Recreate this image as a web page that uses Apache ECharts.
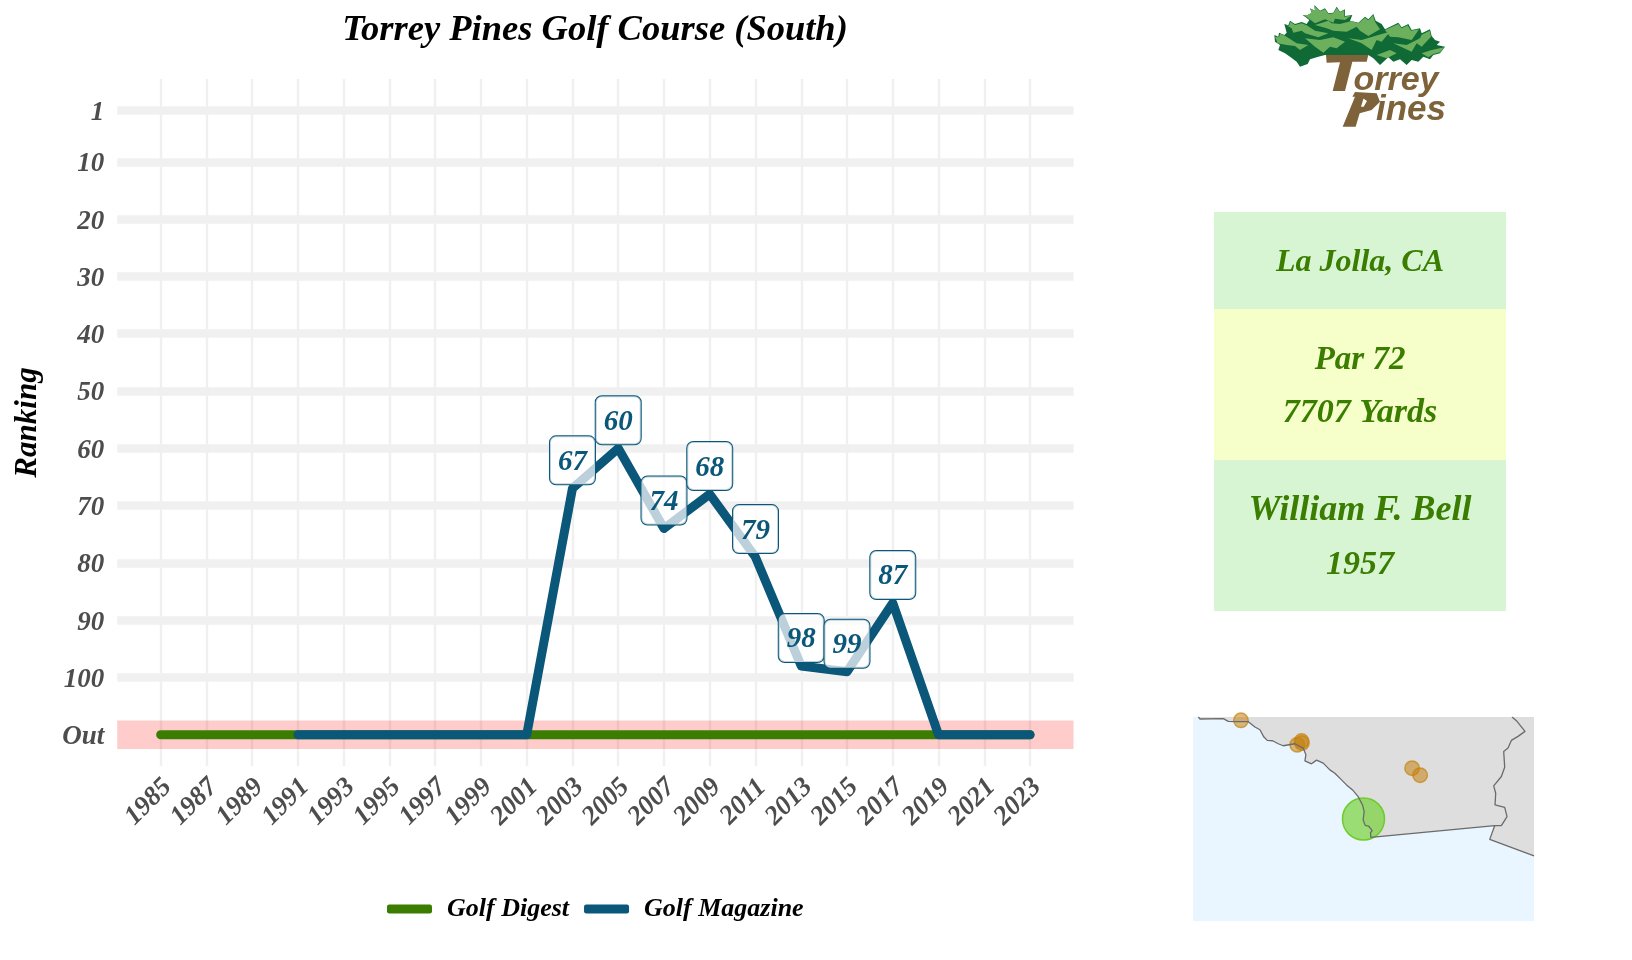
<!DOCTYPE html>
<html><head><meta charset="utf-8">
<style>html,body{margin:0;padding:0;background:#fff}#c{width:1632px;height:960px}</style>
<script src="https://cdn.jsdelivr.net/npm/echarts@6/dist/echarts.min.js"></script>
</head><body><div id="c"></div>
<script>
// ---- chart data ----
const titleText = 'Torrey Pines Golf Course (South)';
const yearTicks = [1985,1987,1989,1991,1993,1995,1997,1999,2001,2003,2005,2007,2009,2011,2013,2015,2017,2019,2021,2023];
const rankGrid = [1,10,20,30,40,50,60,70,80,90,100];
const rankTicks = [1,10,20,30,40,50,60,70,80,90,100,110];
const OUT = 110;
const digestYears = yearTicks;
const digestRanks = [110,110,110,110,110,110,110,110,110,110,110,110,110,110,110,110,110,110,110,110];
const magazineYears = [1991,1993,1995,1997,1999,2001,2003,2005,2007,2009,2011,2013,2015,2017,2019,2021,2023];
const magazineRanks = [110,110,110,110,110,110,67,60,74,68,79,98,99,87,110,110,110];
const outBand = [107.5,112.5];
// ---- info panel ----
const infoLines = [['La Jolla, CA'],['Par 72','7707 Yards'],['William F. Bell','1957']];
// ---- inset map (map units) ----
const mapCoast = [[55,112],[60,118],[130,117],[145,125],[170,126],[205,126],[225,142],[240,150],[252,172],[262,182],[278,183],[295,192],[310,198],[345,192],[370,205],[378,225],[375,243],[395,252],[410,241],[430,250],[450,270],[465,280],[485,300],[500,315],[520,332],[535,350],[548,375],[553,395],[550,420],[556,436],[566,438],[577,452],[572,458],[573,472],[945,437],[930,478],[1063,527]];
const mapLandExtra = [[1063,112]];
const mapCounty = [[997,112],[1012,125],[1036,155],[1015,170],[995,182],[985,205],[972,215],[975,262],[965,290],[942,318],[948,340],[946,375],[975,382],[982,410],[965,437],[945,437]];
const mapOtherCourses = [[183,122],[352,195],[365,184],[366,190],[697,265],[721,286]];
const mapThisCourse = [[551,417]];
const mapLand = mapCoast.concat(mapLandExtra);

const FONT = 'Liberation Serif';
const GREEN = '#3a7d00', BLUE = '#0b5779', GRID = '#f0f0f0', TICK = '#4d4d4d';
const zip = (a,b)=>a.map((v,i)=>[v,b[i]]);

// ---- logo shapes ----
const Z = p => p.map(q=>[1265+q[0]/3,q[1]/3]);
const treeDark = [[28,105],[40,110],[42,98],[58,105],[65,98],[58,72],[70,76],[75,62],[90,72],[110,66],[125,72],[133,60],[113,45],[128,45],[140,38],[135,25],[150,32],[148,15],[165,32],[180,25],[190,40],[205,38],[215,20],[225,35],[240,28],[240,48],[262,45],[255,62],[280,68],[300,50],[310,58],[325,42],[332,62],[350,72],[360,88],[380,78],[400,68],[410,82],[430,72],[440,90],[465,85],[470,100],[495,88],[500,108],[510,120],[525,125],[515,135],[540,140],[525,160],[505,165],[495,178],[475,170],[460,185],[440,180],[425,195],[405,178],[385,185],[370,172],[345,195],[325,175],[310,165],[180,165],[160,170],[135,178],[128,192],[105,200],[95,185],[75,170],[60,160],[40,150],[45,135],[30,125]];
const treeLight = [
 [[115,45],[128,45],[140,38],[136,26],[150,33],[148,18],[165,34],[180,28],[190,42],[205,40],[215,24],[225,37],[238,31],[238,50],[258,47],[240,60],[210,56],[205,68],[180,58],[150,70],[130,55]],
 [[62,75],[72,78],[76,65],[90,75],[110,70],[125,76],[150,92],[190,100],[160,112],[120,100],[110,92],[85,98],[80,85]],
 [[150,75],[190,62],[200,70],[225,72],[262,62],[280,72],[275,80],[245,95],[205,92],[185,85]],
 [[30,110],[42,112],[45,101],[60,107],[95,130],[130,135],[105,150],[90,138],[65,135],[38,130]],
 [[120,115],[165,120],[205,112],[240,125],[215,145],[195,140],[175,158],[150,140]],
 [[265,68],[280,70],[300,53],[310,61],[324,46],[330,65],[345,88],[310,108],[285,92]],
 [[250,115],[290,120],[340,105],[375,95],[350,125],[335,120],[320,150],[290,130]],
 [[360,90],[380,81],[400,72],[410,85],[428,76],[438,92],[462,88],[440,120],[400,112],[375,110]],
 [[385,130],[425,135],[465,115],[470,104],[494,92],[498,110],[470,140],[455,130],[440,155]],
 [[470,160],[500,150],[538,142],[525,157],[505,162],[490,172]],
 [[335,165],[375,150],[395,160],[365,175]]
];
const logoT = [[183,165],[310,165],[305,185],[262,185],[240,273],[203,273],[225,187],[185,188]];
const logoP = [[233,380],[272,380],[284,340],[320,330],[345,305],[335,280],[270,276],[262,290],[270,290],[294,295],[306,303],[296,320],[288,320],[297,290],[270,290]];

const poly = (pts,fill)=>({type:'polygon',shape:{points:pts},style:{fill}});
const txt = (x,y,text,size,fill,extra)=>({type:'text',x,y,style:Object.assign({text,fill,font:`italic bold ${size}px "${FONT}"`,textAlign:'center',textVerticalAlign:'middle'},extra||{})});

const panelBands = [[212,309,'#d8f5d3'],[309,460,'#f6ffc9'],[460,611,'#d8f5d3']];
const panelLineY = [[263],[360,413],[511,565]];
const panelSize = [[32],[33,34],[36,34]];

const graphics = [
  poly(Z(treeDark),'#0f6a36'),
  ...treeLight.map(p=>poly(Z(p),'#6cb05e')),
  poly(Z(logoT),'#7e6239'),
  poly(Z(logoP),'#7e6239'),
  txt(1396,81,'orrey',34,'#7e6239',{font:'italic bold 34px "Liberation Sans"'}),
  txt(1411,110,'ines',35,'#7e6239',{font:'italic bold 35px "Liberation Sans"'}),
  ...panelBands.map(b=>({type:'rect',shape:{x:1214,y:b[0],width:292,height:b[1]-b[0]},style:{fill:b[2]}})),
  ...infoLines.flatMap((ls,i)=>ls.map((t,j)=>txt(1360,panelLineY[i][j],t,panelSize[i][j],GREEN)))
];

const tickStyle = {color:TICK,fontFamily:FONT,fontStyle:'italic',fontWeight:'bold',fontSize:27};

const option = {
  animation:false,
  backgroundColor:'#fff',
  title:{text:titleText,left:590,top:7,textAlign:'center',textStyle:{fontFamily:FONT,fontStyle:'italic',fontWeight:'bold',fontSize:36.5,color:'#000'}},
  legend:{data:['Golf Digest','Golf Magazine'],left:382,top:891,itemWidth:45,itemHeight:9,itemGap:15,icon:'roundRect',
    textStyle:{fontFamily:FONT,fontStyle:'italic',fontWeight:'bold',fontSize:26,color:'#000',padding:[0,0,0,10]}},
  grid:[
    {left:117.2,top:79,width:956.3,height:687,outerBoundsMode:'none',containLabel:false},
    {left:1193,top:717,width:341,height:204,show:true,backgroundColor:'#e9f5ff',borderWidth:0,outerBoundsMode:'none'}
  ],
  xAxis:[
    {type:'value',min:1983.1,max:2024.9,
     axisLine:{show:false},axisTick:{show:false,customValues:yearTicks},
     splitLine:{show:true,lineStyle:{color:GRID,width:2.4}},
     axisLabel:Object.assign({customValues:yearTicks,rotate:45,margin:24,align:'center',padding:[0,34,0,0],formatter:v=>String(v)},tickStyle)},
    {gridIndex:1,type:'value',min:39,max:1063,show:false}
  ],
  yAxis:[
    {type:'value',inverse:true,min:-4.45,max:115.45,name:'Ranking',nameLocation:'middle',nameGap:74,
     nameTextStyle:{fontFamily:FONT,fontStyle:'italic',fontWeight:'bold',fontSize:31,color:'#000'},
     axisLine:{show:false},axisTick:{show:false,customValues:rankGrid},
     splitLine:{show:true,lineStyle:{color:GRID,width:8.6}},
     axisLabel:Object.assign({customValues:rankTicks,margin:13,
       formatter:v=>'{t|'+(v===OUT?'Out':String(v))+'}',
       rich:{t:Object.assign({padding:[5,0,0,0]},tickStyle)}},tickStyle)},
    {gridIndex:1,type:'value',inverse:true,min:112,max:722,show:false}
  ],
  graphic:graphics,
  series:[
    {name:'Golf Digest',type:'line',data:zip(digestYears,digestRanks),symbol:'none',color:GREEN,
     lineStyle:{width:9,cap:'round',join:'round',color:GREEN},z:3,
     markArea:{silent:true,itemStyle:{color:'rgba(255,0,0,0.2)'},label:{show:false},
       data:[[{yAxis:outBand[0]},{yAxis:outBand[1]}]]}},
    {name:'Golf Magazine',type:'line',
     data:zip(magazineYears,magazineRanks).map(d=>({value:d,label:{show:d[1]<OUT}})),
     symbol:'circle',symbolSize:0.1,showSymbol:true,showAllSymbol:true,color:BLUE,
     lineStyle:{width:9,cap:'round',join:'round',color:BLUE},z:4,
     label:{show:true,position:'top',distance:4,formatter:p=>String(p.value[1]),color:BLUE,
       fontFamily:FONT,fontStyle:'italic',fontWeight:'bold',fontSize:29,
       backgroundColor:'rgba(255,255,255,0.72)',borderColor:BLUE,borderWidth:1,borderRadius:6,
       padding:[4,0,0,0],width:45,height:44,lineHeight:44}},
    {type:'custom',xAxisIndex:1,yAxisIndex:1,clip:true,silent:true,data:mapLand,
     renderItem:(params,api)=>params.dataIndex===0?{type:'polygon',shape:{points:mapLand.map(p=>api.coord(p))},style:{fill:'#dedede'}}:null},
    {type:'line',xAxisIndex:1,yAxisIndex:1,data:mapCoast,symbol:'none',silent:true,lineStyle:{color:'#6b6b6b',width:1.3}},
    {type:'line',xAxisIndex:1,yAxisIndex:1,data:mapCounty,symbol:'none',silent:true,lineStyle:{color:'#6b6b6b',width:1.3}},
    {type:'scatter',xAxisIndex:1,yAxisIndex:1,data:mapOtherCourses,symbolSize:14.5,silent:true,clip:true,
     itemStyle:{color:'rgba(196,130,15,0.55)',borderColor:'rgba(196,130,15,0.7)',borderWidth:1.5,opacity:1}},
    {type:'scatter',xAxisIndex:1,yAxisIndex:1,data:mapThisCourse,symbolSize:42,silent:true,clip:true,
     itemStyle:{color:'rgba(115,210,50,0.68)',borderColor:'#6ecc2a',borderWidth:1.5,opacity:1}}
  ]
};
const chart = echarts.init(document.getElementById('c'),null,{renderer:'canvas'});
chart.setOption(option);
</script></body></html>
